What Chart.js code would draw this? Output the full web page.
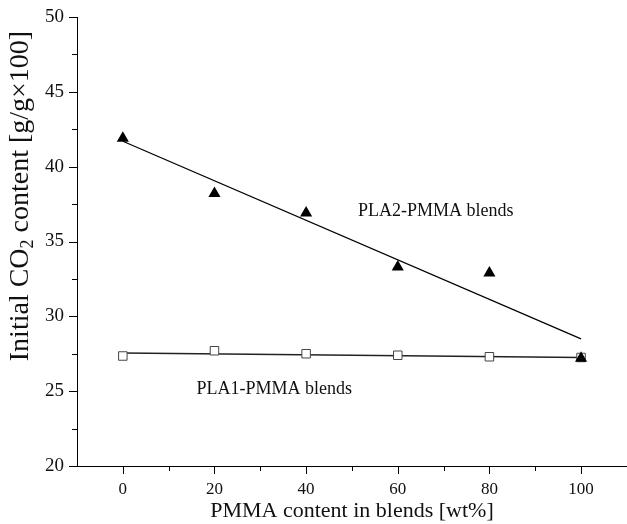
<!DOCTYPE html>
<html>
<head>
<meta charset="utf-8">
<script src="https://cdn.jsdelivr.net/npm/chart.js@4"></script>
<style>
  html, body { margin: 0; padding: 0; background: #fff; }
  #wrap { width: 627px; height: 524px; }
</style>
</head>
<body>
<div id="wrap"><canvas id="chart"></canvas></div>
<script>
// data
const pmmaContent = [0, 20, 40, 60, 80, 100];
const pla2Values = [41.9, 38.2, 36.9, 33.3, 32.9, 27.2];
const pla1Values = [27.35, 27.7, 27.5, 27.4, 27.3, 27.25];

// fitted lines, end points only
const fitX = [0, 100];
const pla2Fit = [41.7, 28.5];
const pla1Fit = [27.55, 27.25];

const xTicks = [0, 20, 40, 60, 80, 100];
const xMinorTicks = [10, 30, 50, 70, 90];
const yTicks = [20, 25, 30, 35, 40, 45, 50];
const yMinorTicks = [22.5, 27.5, 32.5, 37.5, 42.5, 47.5];

const SERIF = '"Liberation Serif", "Times New Roman", serif';

const toPoints = (xs, ys) => xs.map((x, i) => ({ x: x, y: ys[i] }));

// ticks, titles and series labels
const decorPlugin = {
    id: 'decor',
    afterDraw(chart) {
        const ctx = chart.ctx;
        const xs = chart.scales.x;
        const ys = chart.scales.y;
        const area = chart.chartArea;

        ctx.save();
        ctx.strokeStyle = '#000';
        ctx.lineWidth = 1;
        ctx.beginPath();
        // axis line runs on to the right edge
        ctx.moveTo(area.right - 1, area.bottom + 0.5);
        ctx.lineTo(chart.width, area.bottom + 0.5);
        xTicks.forEach(v => {
            const px = Math.round(xs.getPixelForValue(v)) + 0.5;
            ctx.moveTo(px, area.bottom);
            ctx.lineTo(px, area.bottom + 8);
        });
        xMinorTicks.forEach(v => {
            const px = Math.round(xs.getPixelForValue(v)) + 0.5;
            ctx.moveTo(px, area.bottom);
            ctx.lineTo(px, area.bottom + 5);
        });
        yTicks.forEach(v => {
            const py = Math.round(ys.getPixelForValue(v)) + 0.5;
            ctx.moveTo(area.left, py);
            ctx.lineTo(area.left - 8, py);
        });
        yMinorTicks.forEach(v => {
            const py = Math.round(ys.getPixelForValue(v)) + 0.5;
            ctx.moveTo(area.left, py);
            ctx.lineTo(area.left - 5, py);
        });
        ctx.stroke();

        ctx.fillStyle = '#111';
        ctx.textBaseline = 'middle';

        // series labels
        ctx.font = '18px ' + SERIF;
        ctx.textAlign = 'left';
        ctx.fillText('PLA2-PMMA blends', xs.getPixelForValue(51.3), ys.getPixelForValue(37.0));
        ctx.fillText('PLA1-PMMA blends', xs.getPixelForValue(16.1), ys.getPixelForValue(25.1));

        // x title
        ctx.font = '22px ' + SERIF;
        ctx.textAlign = 'center';
        ctx.fillText('PMMA content in blends [wt%]', 352, 511);

        // y title with subscript 2
        ctx.translate(21, 196);
        ctx.rotate(-Math.PI / 2);
        const big = '28px ' + SERIF;
        const small = '18px ' + SERIF;
        const parts = [
            ['Initial CO', big, 0],
            ['2', small, 7],
            [' content [g/g\u00d7100]', big, 0]
        ];
        let total = 0;
        parts.forEach(p => { ctx.font = p[1]; total += ctx.measureText(p[0]).width; });
        let cx = -total / 2;
        ctx.textAlign = 'left';
        parts.forEach(p => {
            ctx.font = p[1];
            ctx.fillText(p[0], cx, p[2]);
            cx += ctx.measureText(p[0]).width;
        });
        ctx.restore();
    }
};

new Chart(document.getElementById('chart'), {
    type: 'scatter',
    data: {
        datasets: [
            {
                label: 'PLA2-PMMA blends',
                data: toPoints(pmmaContent, pla2Values),
                pointStyle: 'triangle',
                pointRadius: 7,
                backgroundColor: '#000',
                borderColor: '#000',
                borderWidth: 0,
                order: 0
            },
            {
                label: 'PLA1-PMMA blends',
                data: toPoints(pmmaContent, pla1Values),
                pointStyle: 'rect',
                pointRadius: 6,
                backgroundColor: '#fff',
                borderColor: '#444',
                borderWidth: 1,
                order: 1
            },
            {
                label: 'PLA2 fit',
                data: toPoints(fitX, pla2Fit),
                showLine: true,
                pointRadius: 0,
                borderColor: '#000',
                borderWidth: 1.3,
                order: 2
            },
            {
                label: 'PLA1 fit',
                data: toPoints(fitX, pla1Fit),
                showLine: true,
                pointRadius: 0,
                borderColor: '#222',
                borderWidth: 1.3,
                order: 3
            }
        ]
    },
    options: {
        responsive: true,
        maintainAspectRatio: false,
        animation: false,
        layout: { padding: { top: 17, right: 0, left: 0, bottom: 0 } },
        plugins: {
            legend: { display: false },
            tooltip: { enabled: false }
        },
        scales: {
            x: {
                type: 'linear',
                min: -10,
                max: 108.5,
                afterBuildTicks: s => { s.ticks = xTicks.map(v => ({ value: v })); },
                afterFit: s => { s.height = 58; },
                grid: { display: false, drawTicks: false },
                border: { display: true, color: '#000', width: 1 },
                ticks: {
                    padding: 13,
                    color: '#111',
                    font: { family: SERIF, size: 17 },
                    maxRotation: 0
                }
            },
            y: {
                type: 'linear',
                min: 20,
                max: 50,
                afterBuildTicks: s => { s.ticks = yTicks.map(v => ({ value: v })); },
                afterFit: s => { s.width = 77; s.paddingTop = 0; s.paddingBottom = 0; },
                grid: { display: false, drawTicks: false },
                border: { display: true, color: '#000', width: 1 },
                ticks: {
                    padding: 13,
                    color: '#111',
                    font: { family: SERIF, size: 19 }
                }
            }
        }
    },
    plugins: [decorPlugin]
});
</script>
</body>
</html>
